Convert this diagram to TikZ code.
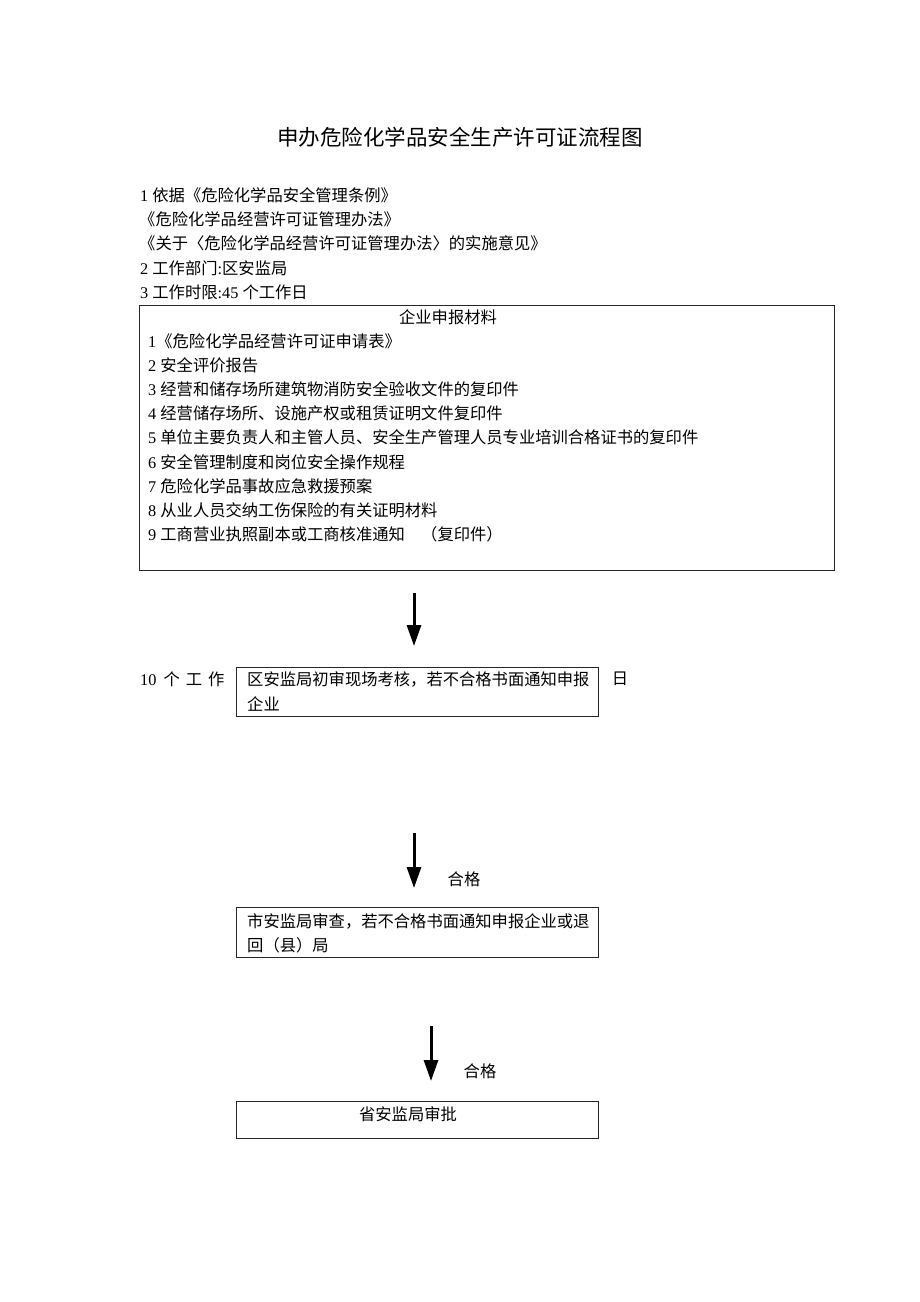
\documentclass[tikz,border=0pt]{standalone}
\usepackage{fontspec}
\setmainfont{Liberation Serif}
\newfontfamily\cjk{Noto Sans CJK SC}
\usetikzlibrary{arrows.meta}
\begin{document}
\begin{tikzpicture}[x=1pt,y=-1pt,
  txt/.style={anchor=west,inner sep=0pt,font=\fontsize{16.3}{24}\selectfont},
  ctxt/.style={anchor=center,inner sep=0pt,font=\fontsize{16.3}{24}\selectfont\cjk},
  box/.style={draw=black!85,line width=1pt,anchor=north west,inner sep=0pt,minimum width=362pt},
  flow/.style={line width=3pt,-{Triangle[width=14pt,length=21pt]}}]
\useasboundingbox (0,0) rectangle (920,1302);
\fill[white] (0,0) rectangle (920,1302);

\node[anchor=center,inner sep=0pt,font=\fontsize{21.5}{26}\selectfont\cjk] (title) at (460,137) {申办危险化学品安全生产许可证流程图};

\node[txt] (h1) at (140,195) {1 {\cjk 依据《危险化学品安全管理条例》}};
\node[txt] (h2) at (139,219) {{\cjk 《危险化学品经营许可证管理办法》}};
\node[txt] (h3) at (139,243) {{\cjk 《关于〈危险化学品经营许可证管理办法〉的实施意见》}};
\node[txt] (h4) at (140,268) {2 {\cjk 工作部门}:{\cjk 区安监局}};
\node[txt] (h5) at (140,292) {3 {\cjk 工作时限}:45 {\cjk 个工作日}};

\node[box,minimum width=695pt,minimum height=265pt] (b1) at (139,305) {};
\node[ctxt] (b1t) at (448,317) {企业申报材料};
\node[txt] (i1) at (148,341) {1{\cjk 《危险化学品经营许可证申请表》}};
\node[txt] (i2) at (148,365) {2 {\cjk 安全评价报告}};
\node[txt] (i3) at (148,389) {3 {\cjk 经营和储存场所建筑物消防安全验收文件的复印件}};
\node[txt] (i4) at (148,413) {4 {\cjk 经营储存场所、设施产权或租赁证明文件复印件}};
\node[txt] (i5) at (148,437) {5 {\cjk 单位主要负责人和主管人员、安全生产管理人员专业培训合格证书的复印件}};
\node[txt] (i6) at (148,462) {6 {\cjk 安全管理制度和岗位安全操作规程}};
\node[txt] (i7) at (148,486) {7 {\cjk 危险化学品事故应急救援预案}};
\node[txt] (i8) at (148,510) {8 {\cjk 从业人员交纳工伤保险的有关证明材料}};
\node[txt] (i9) at (148,534) {9 {\cjk 工商营业执照副本或工商核准通知　（复印件）}};

\coordinate (a1s) at (414,593);
\coordinate (a1e) at (414,646);
\draw[flow] (a1s) -- (a1e);

\node[txt] (d1) at (140,679) {10\hspace{7pt}{\cjk 个\hspace{6pt}工\hspace{6pt}作}};
\node[box,minimum height=49pt] (b2) at (236,667) {};
\node[txt] (b2a) at (247,679) {\cjk 区安监局初审现场考核，若不合格书面通知申报};
\node[txt] (b2b) at (247,704) {\cjk 企业};
\node[ctxt] (d2) at (620,679) {日};

\coordinate (a2s) at (414,833);
\coordinate (a2e) at (414,888);
\draw[flow] (a2s) -- (a2e);
\node[ctxt] (q1) at (464,879) {合格};

\node[box,minimum height=50pt] (b3) at (236,907) {};
\node[txt] (b3a) at (247,921) {\cjk 市安监局审查，若不合格书面通知申报企业或退};
\node[txt] (b3b) at (247,945) {\cjk 回（县）局};

\coordinate (a3s) at (431,1026);
\coordinate (a3e) at (431,1081);
\draw[flow] (a3s) -- (a3e);
\node[ctxt] (q2) at (480,1071) {合格};

\node[box,minimum height=37pt] (b4) at (236,1101) {};
\node[ctxt] (b4t) at (408,1114) {省安监局审批};
\end{tikzpicture}
\end{document}
